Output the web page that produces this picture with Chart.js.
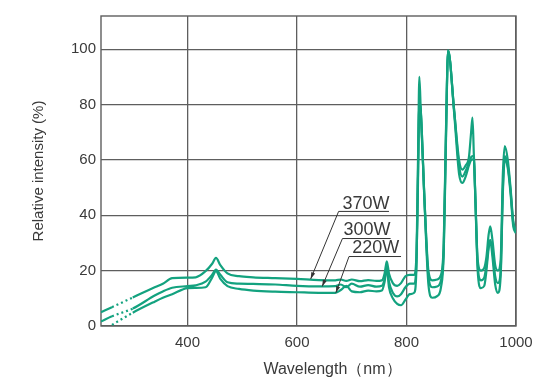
<!DOCTYPE html>
<html lang="en">
  <head>
    <meta charset="UTF-8" />
    <meta name="viewport" content="width=device-width, initial-scale=1.0" />
    <title>Relative intensity</title>

    <script src="https://cdn.jsdelivr.net/npm/chart.js"></script>

    <style>
      * {
        margin: 0;
        padding: 0;
      }
      body {
        background: #fff;
      }
      .graph {
        width: 557px;
        height: 378px;
      }
    </style>
  </head>
  <body>
    <div class="graph">
      <canvas id="spectrum"></canvas>
    </div>

    <script>
      /*====  DATA ============================ */
      const wavelength = [
        242, 262, 300, 340, 355, 372, 400, 415, 433, 445, 452, 460, 473, 494,
        520, 560, 600, 640, 670, 680, 690, 700, 715, 730, 745, 755, 760, 764,
        768, 775, 783, 790, 798, 806, 814, 818, 821, 823.5, 826, 833, 840, 847,
        856, 863, 868, 872, 876, 887, 896, 902, 908, 914, 918, 920.5, 923, 926,
        930, 936, 942, 946, 950, 953, 957, 962, 967, 972, 976, 979.5, 985, 990,
        995, 1000
      ];

      const lamp370 = [
        5, 6.8, 10.3, 14, 15.3, 17.3, 17.5, 17.6, 19.8, 22.5, 24.6, 22, 19, 18,
        17.6, 17.3, 17, 16.6, 16.5, 16.8, 16.3, 16.8, 16.2, 16.6, 16.3, 16.5, 19, 23.4,
        19, 15.5, 14.5, 15.5, 18, 18.5, 18.5, 25, 60, 90, 78, 45, 20, 16.5,
        16.8, 18.5, 30, 70, 99.5, 78, 60, 56.5, 58, 61, 70, 75.3, 62, 45,
        24, 20, 21, 25, 33, 36, 31, 22, 20, 24, 55, 65, 60, 50,
        38, 34.5
      ];

      const lamp300 = [
        1.6, 3.5, 6.3, 11, 12.5, 13.8, 14.4, 14.7, 16, 18.5, 20.4, 18.5, 15.8, 15.3,
        15.2, 15, 14.5, 14.3, 14.4, 15, 14, 15.3, 14.2, 14.8, 14.2, 14.5, 17, 21.5,
        16, 12, 10.7, 11.5, 14, 15.3, 15.3, 22, 55, 80.5, 78, 45, 18, 14,
        14.3, 16.5, 28, 68, 99.5, 78, 58, 54, 56, 59, 61, 61.4, 61, 45,
        22, 16.5, 17.5, 22, 29, 31, 27, 18, 15.5, 20, 50, 61.4, 58, 49,
        37, 34
      ];

      const lamp220 = [
        null, 0.4, 4.8, 8.8, 10.2, 11.5, 13.7, 13.8, 14, 17.5, 19.8, 17, 14.4, 13.4,
        12.8, 12.4, 12.2, 12, 12, 13, 14.5, 12.5, 12.2, 12.8, 12.5, 12.8, 16, 21,
        14, 10, 8, 7.5, 9.5, 11.5, 12, 20, 52, 80.5, 78, 44, 15, 10.2,
        10.8, 14, 26, 66, 99.5, 77, 55, 51.7, 54, 58, 60, 60.2, 60, 44,
        20, 13.7, 14.5, 20, 28, 31, 25, 15, 12, 18, 48, 60, 57, 48,
        36, 33.5
      ];

      const seriesNames = ['370W', '300W', '220W'];
      const xTicks = [400, 600, 800, 1000];
      const yTicks = [0, 20, 40, 60, 80, 100];

      /*====  STYLE ============================ */
      const GREEN = '#13a27f';
      const GRID = '#5e5e5e';
      const TEXT = '#3a3a3a';
      const FONT = '"Liberation Sans", Arial, sans-serif';

      // scale break drawn dotted near the start of the curves
      const breakFrom = 262;
      const breakTo = 300;

      // callouts: underline start/end, arrow tip, text anchor (data units)
      const callouts = [
        { text: seriesNames[0], from: [676, 41.4], to: [768, 41.4], tip: [625, 17], at: [683, 42.4] },
        { text: seriesNames[1], from: [683, 31.6], to: [771, 31.6], tip: [646, 14.3], at: [685, 33] },
        { text: seriesNames[2], from: [695, 25.1], to: [790, 25.1], tip: [671, 12], at: [701, 26.3] }
      ];

      Chart.defaults.font.family = FONT;
      Chart.defaults.color = TEXT;

      const toPoints = (values) => wavelength.map((x, i) => ({ x: x, y: values[i] }));

      const lineSet = (label, values) => ({
        label: label,
        data: toPoints(values),
        borderColor: GREEN,
        borderWidth: 2.2,
        pointRadius: 0,
        fill: false,
        cubicInterpolationMode: 'monotone',
        segment: {
          borderDash: (ctx) =>
            ctx.p0.parsed.x >= breakFrom && ctx.p1.parsed.x <= breakTo ? [2, 3] : undefined
        }
      });

      /*====  FRAME + CALLOUTS ============================ */
      const decorations = {
        id: 'decorations',
        beforeDatasetsDraw(chart) {
          const { ctx, chartArea: a } = chart;
          ctx.save();
          ctx.strokeStyle = GRID;
          ctx.lineWidth = 1.4;
          ctx.strokeRect(a.left, a.top, a.right - a.left, a.bottom - a.top);
          ctx.restore();
        },
        afterDraw(chart) {
          const { ctx, chartArea: a } = chart;
          const sx = chart.scales.x;
          const sy = chart.scales.y;
          ctx.save();
          ctx.strokeStyle = '#333';
          ctx.fillStyle = '#333';
          ctx.lineWidth = 1;
          callouts.forEach((c) => {
            const x0 = sx.getPixelForValue(c.from[0]);
            const y0 = sy.getPixelForValue(c.from[1]);
            const x1 = sx.getPixelForValue(c.to[0]);
            const xt = sx.getPixelForValue(c.tip[0]);
            const yt = sy.getPixelForValue(c.tip[1]);
            ctx.beginPath();
            ctx.moveTo(x1, y0);
            ctx.lineTo(x0, y0);
            ctx.lineTo(xt, yt);
            ctx.stroke();
            // arrow head
            const ang = Math.atan2(yt - y0, xt - x0);
            ctx.beginPath();
            ctx.moveTo(xt, yt);
            ctx.lineTo(xt - 7 * Math.cos(ang - 0.3), yt - 7 * Math.sin(ang - 0.3));
            ctx.lineTo(xt - 7 * Math.cos(ang + 0.3), yt - 7 * Math.sin(ang + 0.3));
            ctx.closePath();
            ctx.fill();
            // label
            ctx.font = '18px ' + FONT;
            ctx.fillStyle = TEXT;
            ctx.textBaseline = 'alphabetic';
            ctx.fillText(c.text, sx.getPixelForValue(c.at[0]), sy.getPixelForValue(c.at[1]));
            ctx.fillStyle = '#333';
          });
          // x axis title sits a little right of centre in the original
          ctx.font = '16px ' + FONT;
          ctx.fillStyle = TEXT;
          ctx.textAlign = 'center';
          ctx.textBaseline = 'middle';
          ctx.fillText('Wavelength（nm）', (a.left + a.right) / 2 + 24, chart.height - 8);
          ctx.restore();
        }
      };

      /*====  CHART ============================ */
      const ctx = document.getElementById('spectrum').getContext('2d');
      const spectrumChart = new Chart(ctx, {
        type: 'line',
        data: {
          datasets: [
            lineSet(seriesNames[0], lamp370),
            lineSet(seriesNames[1], lamp300),
            lineSet(seriesNames[2], lamp220)
          ]
        },
        options: {
          responsive: true,
          maintainAspectRatio: false,
          animation: false,
          layout: {
            padding: { top: 16, right: 41, left: 0, bottom: 0 }
          },
          plugins: {
            legend: { display: false },
            tooltip: { enabled: false }
          },
          scales: {
            x: {
              type: 'linear',
              min: 242,
              max: 1000,
              afterBuildTicks: (scale) => {
                scale.ticks = xTicks.map((v) => ({ value: v }));
              },
              afterFit: (scale) => {
                scale.height = 52;
              },
              grid: { color: GRID, lineWidth: 1.3, drawTicks: false },
              border: { display: false },
              ticks: {
                padding: 8,
                font: { size: 15 },
                color: TEXT,
                maxRotation: 0,
                callback: (v) => String(v)
              }
            },
            y: {
              min: 0,
              max: 112,
              afterBuildTicks: (scale) => {
                scale.ticks = yTicks.map((v) => ({ value: v }));
              },
              afterFit: (scale) => {
                scale.width = 101;
              },
              grid: { color: GRID, lineWidth: 1.3, drawTicks: false },
              border: { display: false },
              ticks: {
                padding: 5,
                font: { size: 15 },
                color: TEXT,
                callback: (v) => String(v)
              },
              title: {
                display: true,
                text: 'Relative intensity (%)',
                font: { size: 15 },
                color: TEXT,
                padding: { top: 30, bottom: 0 }
              }
            }
          }
        },
        plugins: [decorations]
      });
    </script>
  </body>
</html>
